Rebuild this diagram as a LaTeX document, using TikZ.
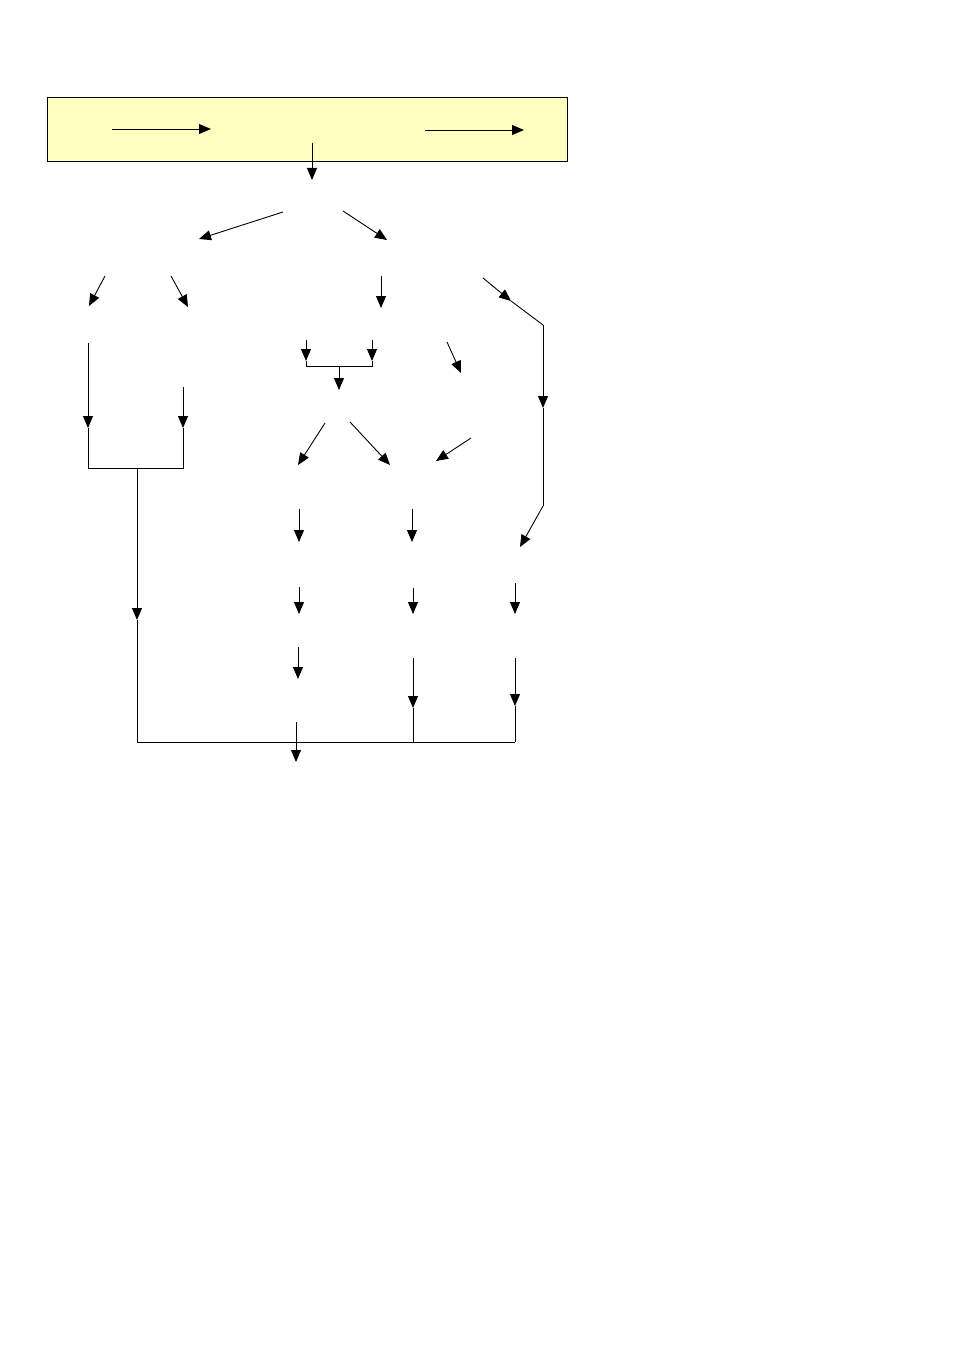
\documentclass[tikz,border=0pt]{standalone}
\usetikzlibrary{arrows.meta}
\definecolor{boxfill}{HTML}{FFFFC0}
\tikzset{
  conn/.style={line width=0.9pt, draw=black},
  arr/.style={conn, -{Triangle[length=12pt,width=10pt]}},
  topbox/.style={draw=black, line width=0.9pt, fill=boxfill}
}
\begin{document}
\begin{tikzpicture}[x=1pt,y=-1pt]
\useasboundingbox (0,0) rectangle (954,1351);
% top box
\draw[topbox] (47,97) rectangle (567,161);
\coordinate (t1a) at (112,129); \coordinate (t1b) at (211,129);
\coordinate (t2a) at (425,130); \coordinate (t2b) at (524,130);
\draw[arr] (t1a) -- (t1b);
\draw[arr] (t2a) -- (t2b);
\coordinate (d0a) at (312,143); \coordinate (d0b) at (312,180);
\draw[arr] (d0a) -- (d0b);
% second level
\coordinate (s1a) at (283,212); \coordinate (s1b) at (199,239);
\coordinate (s2a) at (343,211); \coordinate (s2b) at (387,240);
\draw[arr] (s1a) -- (s1b);
\draw[arr] (s2a) -- (s2b);
% third row
\coordinate (r1a) at (105,276); \coordinate (r1b) at (89,306);
\coordinate (r2a) at (171,276); \coordinate (r2b) at (188,307);
\coordinate (r3a) at (381,276); \coordinate (r3b) at (381,308);
\draw[arr] (r1a) -- (r1b);
\draw[arr] (r2a) -- (r2b);
\draw[arr] (r3a) -- (r3b);
% right long path
\coordinate (p1) at (483,278); \coordinate (p1m) at (511,301);
\coordinate (p2) at (543,325); \coordinate (p2m) at (543,408);
\coordinate (p3) at (543,506); \coordinate (p4) at (520,547);
\draw[arr] (p1) -- (p1m);
\draw[conn] (p1m) -- (p2);
\draw[arr] (p2) -- (p2m);
\draw[conn] (p2m) -- (p3);
\draw[arr] (p3) -- (p4);
% left branch
\coordinate (l1a) at (88,343); \coordinate (l1b) at (88,428);
\coordinate (l2a) at (183,387); \coordinate (l2b) at (183,428);
\coordinate (l1c) at (88,468); \coordinate (l2c) at (183,468);
\coordinate (lm) at (137,468); \coordinate (lmm) at (137,620);
\coordinate (lb) at (137,742);
\draw[arr] (l1a) -- (l1b);
\draw[arr] (l2a) -- (l2b);
\draw[conn] (l1b) -- (l1c) -- (l2c) -- (l2b);
\draw[arr] (lm) -- (lmm);
\draw[conn] (lmm) -- (lb);
% middle bracket
\coordinate (m1a) at (306,340); \coordinate (m1b) at (306,361);
\coordinate (m2a) at (372,340); \coordinate (m2b) at (372,361);
\coordinate (m1c) at (306,366); \coordinate (m2c) at (372,366);
\coordinate (mca) at (339,366); \coordinate (mcb) at (339,390);
\draw[arr] (m1a) -- (m1b);
\draw[arr] (m2a) -- (m2b);
\draw[conn] (m1b) -- (m1c) -- (m2c) -- (m2b);
\draw[arr] (mca) -- (mcb);
\coordinate (q1a) at (447,342); \coordinate (q1b) at (461,373);
\draw[arr] (q1a) -- (q1b);
% diagonal row
\coordinate (g1a) at (325,423); \coordinate (g1b) at (298,465);
\coordinate (g2a) at (350,422); \coordinate (g2b) at (390,465);
\coordinate (g3a) at (471,438); \coordinate (g3b) at (436,461);
\draw[arr] (g1a) -- (g1b);
\draw[arr] (g2a) -- (g2b);
\draw[arr] (g3a) -- (g3b);
% column 1
\coordinate (c1a) at (299,509); \coordinate (c1b) at (299,542);
\coordinate (c1c) at (299,587); \coordinate (c1d) at (299,614);
\coordinate (c1e) at (298,647); \coordinate (c1f) at (298,679);
\coordinate (c1g) at (296,722); \coordinate (c1h) at (296,762);
\draw[arr] (c1a) -- (c1b);
\draw[arr] (c1c) -- (c1d);
\draw[arr] (c1e) -- (c1f);
\draw[arr] (c1g) -- (c1h);
% column 2
\coordinate (c2a) at (412,509); \coordinate (c2b) at (412,542);
\coordinate (c2c) at (413,588); \coordinate (c2d) at (413,614);
\coordinate (c2e) at (413,658); \coordinate (c2f) at (413,708);
\coordinate (c2g) at (413,742);
\draw[arr] (c2a) -- (c2b);
\draw[arr] (c2c) -- (c2d);
\draw[arr] (c2e) -- (c2f);
\draw[conn] (c2f) -- (c2g);
% column 3
\coordinate (c3c) at (515,583); \coordinate (c3d) at (515,614);
\coordinate (c3e) at (515,658); \coordinate (c3f) at (515,706);
\coordinate (c3g) at (515,742);
\draw[arr] (c3c) -- (c3d);
\draw[arr] (c3e) -- (c3f);
\draw[conn] (c3f) -- (c3g);
% bottom line
\draw[conn] (lb) -- (c3g);
\end{tikzpicture}
\end{document}
